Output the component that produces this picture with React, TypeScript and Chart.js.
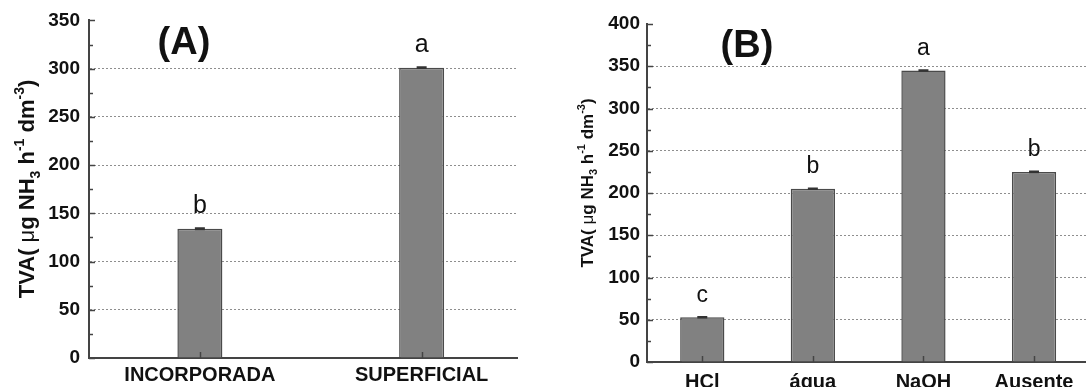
import React, { useEffect, useRef } from "react";
import { Chart, registerables } from "chart.js";

Chart.register(...registerables);

const FONT = "'Liberation Sans', Arial, Helvetica, sans-serif";

// Panel A
const categoriesA = ["INCORPORADA", "SUPERFICIAL"];
const valuesA = [134, 301];
const errorsA = [0.8, 0.6];
const lettersA = ["b", "a"];
const yMaxA = 350;

// Panel B
const categoriesB = ["HCl", "água", "NaOH", "Ausente"];
const valuesB = [53, 205, 345, 225];
const errorsB = [0.6, 0.6, 0.5, 0.6];
const lettersB = ["c", "b", "a", "b"];
const yMaxB = 400;

const yStep = 50;
const yMinorStep = 25;

const titleSegments = [
  { t: "TVA( ", s: "n" },
  { t: "\u03bc", s: "mu" },
  { t: "g NH", s: "n" },
  { t: "3", s: "sub" },
  { t: " h", s: "n" },
  { t: "-1", s: "sup" },
  { t: " dm", s: "n" },
  { t: "-3", s: "sup" },
  { t: ")", s: "n" },
];

type PanelCfg = {
  categories: string[];
  values: number[];
  errors: number[];
  letters: string[];
  yMax: number;
  xMax: number;
  barFrac: number;
  areaLeft: number;
  areaTop: number;
  xAxisH: number;
  padRight: number;
  yTickPad: number;
  xTickPad: number;
  letterSize: number;
  titleSize: number;
  titleX: number;
  titleY: number;
  label: string;
  labelX: number;
  labelY: number;
  labelSize: number;
};

function makeOverlay(p: PanelCfg) {
  return {
    id: "overlay",
    afterDatasetsDraw(chart: any) {
      const { ctx, chartArea } = chart;
      const xs = chart.scales.x;
      const ys = chart.scales.y;
      ctx.save();
      ctx.strokeStyle = "#444";
      ctx.lineWidth = 1.5;
      // y inward ticks
      for (let v = 0; v <= p.yMax; v += yMinorStep) {
        const py = Math.round(ys.getPixelForValue(v)) + 0.5;
        const len = v % yStep === 0 ? 6 : 4;
        ctx.beginPath();
        ctx.moveTo(chartArea.left, py);
        ctx.lineTo(chartArea.left + len, py);
        ctx.stroke();
      }
      // x inward ticks
      p.categories.forEach((_, i) => {
        const px = Math.round(xs.getPixelForValue(i + 1)) + 0.5;
        ctx.beginPath();
        ctx.moveTo(px, chartArea.bottom);
        ctx.lineTo(px, chartArea.bottom - 6);
        ctx.stroke();
      });
      // error bars
      ctx.strokeStyle = "#333";
      ctx.lineWidth = 1.5;
      p.values.forEach((v, i) => {
        const px = xs.getPixelForValue(i + 1);
        const e = p.errors[i];
        const top = ys.getPixelForValue(v + e);
        const bot = ys.getPixelForValue(v - e);
        ctx.beginPath();
        ctx.moveTo(px, top);
        ctx.lineTo(px, bot);
        ctx.moveTo(px - 5, top);
        ctx.lineTo(px + 5, top);
        ctx.moveTo(px - 5, bot);
        ctx.lineTo(px + 5, bot);
        ctx.stroke();
      });
      // significance letters
      ctx.fillStyle = "#111";
      ctx.font = `${p.letterSize}px ${FONT}`;
      ctx.textAlign = "center";
      ctx.textBaseline = "alphabetic";
      p.values.forEach((v, i) => {
        const px = xs.getPixelForValue(i + 1);
        const py = ys.getPixelForValue(v + p.errors[i]);
        ctx.fillText(p.letters[i], px, py - 15);
      });
      // panel label
      ctx.font = `bold ${p.labelSize}px ${FONT}`;
      ctx.textBaseline = "middle";
      ctx.fillText(p.label, p.labelX, p.labelY);
      // y-axis title with sub/superscripts
      const sz = p.titleSize;
      const small = Math.round(sz * 0.62);
      ctx.translate(p.titleX, p.titleY);
      ctx.rotate(-Math.PI / 2);
      ctx.textAlign = "left";
      ctx.textBaseline = "alphabetic";
      const fontFor = (s: string) =>
        s === "sub" || s === "sup"
          ? `bold ${small}px ${FONT}`
          : s === "mu"
          ? `${sz}px ${FONT}`
          : `bold ${sz}px ${FONT}`;
      let total = 0;
      titleSegments.forEach((seg) => {
        ctx.font = fontFor(seg.s);
        total += ctx.measureText(seg.t).width;
      });
      let cx = -total / 2;
      titleSegments.forEach((seg) => {
        ctx.font = fontFor(seg.s);
        const dy = seg.s === "sub" ? sz * 0.25 : seg.s === "sup" ? -sz * 0.45 : 0;
        ctx.fillText(seg.t, cx, dy);
        cx += ctx.measureText(seg.t).width;
      });
      ctx.restore();
    },
  };
}

function buildConfig(p: PanelCfg): any {
  return {
    type: "bar",
    data: {
      datasets: [
        {
          data: p.values.map((v, i) => ({ x: i + 1, y: v })),
          backgroundColor: "#818181",
          borderColor: "#4a4a4a",
          borderWidth: 1.5,
          categoryPercentage: 1,
          barPercentage: p.barFrac,
        },
      ],
    },
    options: {
      responsive: false,
      animation: false,
      devicePixelRatio: 1,
      layout: { padding: { left: 0, right: p.padRight, top: p.areaTop, bottom: 0 } },
      plugins: { legend: { display: false }, tooltip: { enabled: false } },
      scales: {
        x: {
          type: "linear",
          offset: false,
          min: 0.5,
          max: p.xMax,
          grid: { display: false },
          border: { display: true, color: "#444", width: 2 },
          afterBuildTicks: (s: any) => {
            s.ticks = p.categories.map((_, i) => ({ value: i + 1 }));
          },
          afterFit: (s: any) => {
            s.height = p.xAxisH;
          },
          ticks: {
            autoSkip: false,
            maxRotation: 0,
            minRotation: 0,
            padding: p.xTickPad,
            color: "#111",
            font: { family: FONT, size: 20, weight: "bold" },
            callback: (v: any) => p.categories[Math.round(Number(v)) - 1] ?? "",
          },
        },
        y: {
          min: 0,
          max: p.yMax,
          afterFit: (s: any) => {
            s.width = p.areaLeft;
          },
          ticks: {
            stepSize: yStep,
            padding: p.yTickPad,
            color: "#111",
            font: { family: FONT, size: 19, weight: "bold" },
          },
          grid: {
            drawTicks: false,
            lineWidth: 1,
            color: (c: any) =>
              c.tick && (c.tick.value === 0 || c.tick.value === p.yMax) ? "rgba(0,0,0,0)" : "#8e8e8e",
          },
          border: { display: true, color: "#444", width: 2, dash: [2, 2] },
        },
      },
    },
    plugins: [makeOverlay(p)],
  };
}

const cfgA: PanelCfg = {
  categories: categoriesA,
  values: valuesA,
  errors: errorsA,
  letters: lettersA,
  yMax: yMaxA,
  xMax: 2.43,
  barFrac: 0.203,
  areaLeft: 89,
  areaTop: 20,
  xAxisH: 29,
  padRight: 23,
  yTickPad: 9,
  xTickPad: -3,
  letterSize: 25,
  titleSize: 22,
  titleX: 34,
  titleY: 189,
  label: "(A)",
  labelX: 184,
  labelY: 44,
  labelSize: 38,
};

const cfgB: PanelCfg = {
  categories: categoriesB,
  values: valuesB,
  errors: errorsB,
  letters: lettersB,
  yMax: yMaxB,
  xMax: 4.47,
  barFrac: 0.4,
  areaLeft: 107,
  areaTop: 24,
  xAxisH: 25,
  padRight: 0,
  yTickPad: 7,
  xTickPad: 0,
  letterSize: 23,
  titleSize: 17,
  titleX: 53,
  titleY: 183,
  label: "(B)",
  labelX: 207,
  labelY: 47,
  labelSize: 38,
};

function Panel({ left, width, cfg }: { left: number; width: number; cfg: PanelCfg }) {
  const ref = useRef<HTMLCanvasElement>(null);
  useEffect(() => {
    const chart = new Chart(ref.current as HTMLCanvasElement, buildConfig(cfg));
    return () => chart.destroy();
  }, []);
  return (
    <canvas
      ref={ref}
      width={width}
      height={387}
      style={{ position: "absolute", left, top: 0, width, height: 387 }}
    />
  );
}

export default function App() {
  return (
    <div
      style={{
        position: "fixed",
        left: 0,
        top: 0,
        width: 1086,
        height: 387,
        overflow: "hidden",
        background: "#fff",
      }}
    >
      <Panel left={0} width={540} cfg={cfgA} />
      <Panel left={540} width={546} cfg={cfgB} />
    </div>
  );
}
